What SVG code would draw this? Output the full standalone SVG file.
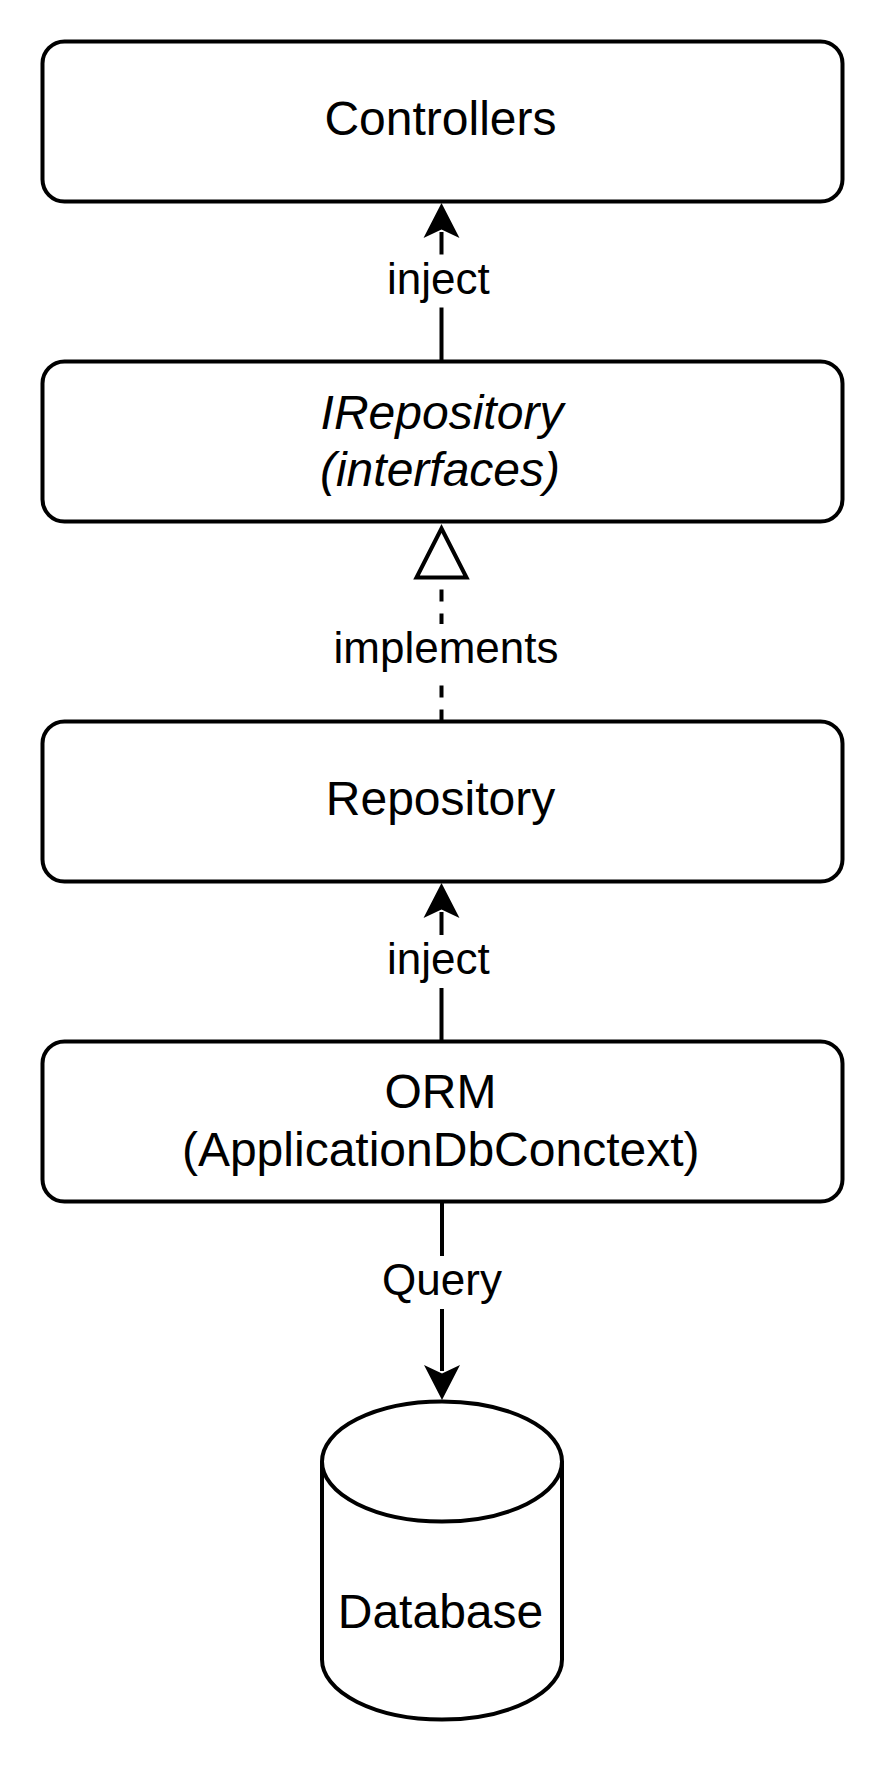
<svg xmlns="http://www.w3.org/2000/svg" width="888" height="1768" viewBox="0 0 888 1768">
<style>
.box{fill:#fff;stroke:#000;stroke-width:4}
.t{font-family:"Liberation Sans",Arial,Helvetica,sans-serif;font-size:48px;fill:#000;text-anchor:middle}
.it{font-style:italic}
.lbl{font-family:"Liberation Sans",Arial,Helvetica,sans-serif;font-size:44px;fill:#000;text-anchor:middle}
.ln{fill:none;stroke:#000;stroke-width:4}
.dash{stroke-dasharray:12 12}
.bg{fill:#fff}
.head{fill:#000;stroke:none}
</style>
<rect width="888" height="1768" fill="#fff"/>
<g id="connectors">
  <g id="edge-inject-1">
    <line class="ln" x1="441.5" y1="361.5" x2="441.5" y2="232"/>
    <polygon class="head" points="441.5,203 423.5,238 441.5,229.5 459.5,238"/>
    <rect class="bg" x="386" y="254.5" width="106" height="53"/>
    <text class="lbl" x="438.3" y="293.5">inject</text>
  </g>
  <g id="edge-implements">
    <line class="ln dash" x1="441.5" y1="721.5" x2="441.5" y2="577.5"/>
    <polygon points="441.5,528.5 416.5,577.5 466.5,577.5" fill="#fff" stroke="#000" stroke-width="4" stroke-linejoin="miter"/>
    <rect class="bg" x="332" y="624" width="228" height="53"/>
    <text class="lbl" x="446" y="663">implements</text>
  </g>
  <g id="edge-inject-2">
    <line class="ln" x1="441.5" y1="1041.5" x2="441.5" y2="912"/>
    <polygon class="head" points="441.5,883 423.5,918 441.5,909.5 459.5,918"/>
    <rect class="bg" x="386" y="935" width="106" height="53"/>
    <text class="lbl" x="438.3" y="974">inject</text>
  </g>
  <g id="edge-query">
    <line class="ln" x1="442" y1="1201.5" x2="442" y2="1371"/>
    <polygon class="head" points="442,1400 424,1365 442,1373.5 460,1365"/>
    <rect class="bg" x="380" y="1256" width="124" height="53"/>
    <text class="lbl" x="442" y="1295">Query</text>
  </g>
</g>
<g id="node-controllers">
  <rect class="box" x="42.5" y="41.5" width="800" height="160" rx="22" ry="22"/>
  <text class="t" x="440.5" y="134.5">Controllers</text>
</g>
<g id="node-irepository">
  <rect class="box" x="42.5" y="361.5" width="800" height="160" rx="22" ry="22"/>
  <text class="t it" x="442" y="428.5">IRepository</text>
  <text class="t it" x="440" y="485.5">(interfaces)</text>
</g>
<g id="node-repository">
  <rect class="box" x="42.5" y="721.5" width="800" height="160" rx="22" ry="22"/>
  <text class="t" x="440.5" y="815">Repository</text>
</g>
<g id="node-orm">
  <rect class="box" x="42.5" y="1041.5" width="800" height="160" rx="22" ry="22"/>
  <text class="t" x="440.5" y="1107.5">ORM</text>
  <text class="t" x="440.7" y="1165.5">(ApplicationDbConctext)</text>
</g>
<g id="node-database">
  <path class="box" d="M322,1461.5 A120,60 0 0 1 562,1461.5 L562,1659.5 A120,60 0 0 1 322,1659.5 Z"/>
  <path class="ln" d="M322,1461.5 A120,60 0 0 0 562,1461.5"/>
  <text class="t" x="440.5" y="1627.5">Database</text>
</g>
</svg>
